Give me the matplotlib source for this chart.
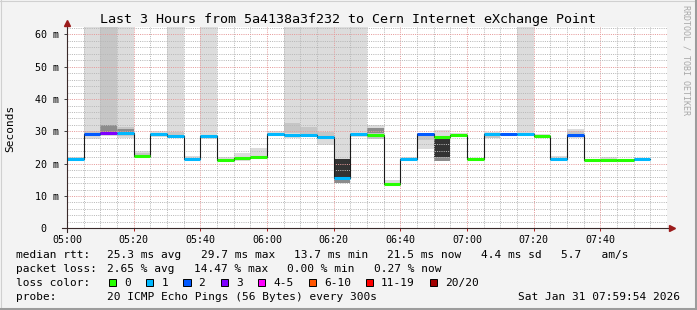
import numpy as np
import matplotlib.pyplot as plt
from matplotlib.patches import Rectangle
from matplotlib.lines import Line2D
from matplotlib.ticker import MultipleLocator, FixedLocator

# ================= DATA =================
step_min = 5                       # one probe every 300 s
time_labels = ["05:00", "05:20", "05:40", "06:00", "06:20", "06:40", "07:00", "07:20", "07:40"]
y_labels = ["0  ", "10 m", "20 m", "30 m", "40 m", "50 m", "60 m"]

# median rtt per 5 min step (ms)
median_ms = [21.3, 29.3, 29.4, 29.6, 22.4, 29.1, 28.7, 21.5, 28.5, 21.1, 21.7, 22.0,
             29.1, 29.0, 29.0, 28.2, 15.6, 29.1, 28.9, 13.8, 21.5, 29.1, 28.2, 28.9,
             21.5, 29.2, 29.3, 29.1, 28.6, 21.5, 28.8, 21.0, 21.0, 21.0, 21.5]
# lost pings out of 20 per step
lost_pings = [1, 2, 3, 1, 0, 1, 1, 1, 1, 0, 0, 0, 1, 1, 1, 1, 1, 1, 0, 0, 1, 2, 0, 0,
              0, 1, 2, 1, 0, 1, 2, 0, 0, 0, 1]

# smoke: full ping range (95 = ping far beyond the scale)
smoke_lo = [21.0, 27.6, 28.7, 28.0, 22.0, 28.4, 28.0, 21.3, 27.5, 20.9, 20.8, 21.4,
            28.7, 27.8, 28.4, 25.8, 13.9, 28.4, 27.5, 13.5, 21.0, 24.5, 20.8, 28.6,
            21.2, 27.8, 28.9, 28.9, 28.3, 20.9, 28.0, 20.8, 21.0, 20.8, 21.2]
smoke_hi = [22.0, 95, 95, 95, 23.9, 30.0, 95, 22.4, 95, 22.2, 23.4, 24.9,
            30.2, 95, 95, 95, 95, 95, 32.0, 14.8, 22.2, 29.5, 30.4, 29.4,
            21.9, 29.8, 29.6, 95, 29.1, 22.4, 30.7, 21.4, 22.1, 21.3, 21.8]

# denser smoke bands (step index, low, high)
mid_step = [1, 2, 3, 4, 6, 10, 13, 14, 15, 18, 21, 25, 30]
mid_lo = [29.3, 28.9, 28.5, 22.4, 28.7, 21.2, 29.6, 29.3, 27.6, 27.5, 27.3, 28.0, 28.5]
mid_hi = [30.2, 95, 31.2, 23.4, 29.9, 22.2, 32.5, 31.4, 29.9, 31.0, 28.6, 29.2, 30.2]

deep_step = [2, 3, 16, 18, 22]
deep_lo = [29.6, 29.8, 13.9, 29.4, 20.8]
deep_hi = [32.0, 30.6, 21.6, 30.9, 22.5]

core_step = [16, 22]
core_lo = [16.0, 22.2]
core_hi = [21.4, 27.6]

loss_names = ["0", "1", "2", "3", "4-5", "6-10", "11-19", "20/20"]
loss_colors = ["#26ff00", "#00b8ff", "#0059ff", "#7e00ff", "#ff00ff", "#ff5500", "#ff0000", "#a10000"]
loss_limits = [0, 1, 2, 3, 5, 10, 19, 20]

title = "Last 3 Hours from 5a4138a3f232 to Cern Internet eXchange Point"
rtt_stats = ["25.3 ms avg", "29.7 ms max", "13.7 ms min", "21.5 ms now", "4.4 ms sd", "5.7   am/s"]
loss_stats = ["2.65 % avg", "14.47 % max", "0.00 % min", "0.27 % now"]
probe_text = "20 ICMP Echo Pings (56 Bytes) every 300s"
stamp = "Sat Jan 31 07:59:54 2026"

# ================= SETTINGS =================
W, H = 697, 310
mono = "DejaVu Sans Mono"
plt.rcParams.update({"font.family": mono})


def fx(x):
    return x / W


def fy(y):
    return 1 - y / H


def loss_color(n):
    for lim, col in zip(loss_limits, loss_colors):
        if n <= lim:
            return col
    return loss_colors[-1]


# ================= PLOT =================
fig = plt.figure(figsize=(W / 100, H / 100), dpi=100, facecolor="#f3f3f3")
ax = fig.add_axes([fx(67), fy(228.3), fx(600), (228.3 - 27) / H])
ax.set_facecolor("white")

starts = np.arange(len(median_ms)) * step_min
ax.bar(starts, np.array(smoke_hi) - np.array(smoke_lo), bottom=smoke_lo, width=step_min,
       align="edge", color="#dcdcdc", linewidth=0, zorder=1)
for steps, lo, hi, col in [(mid_step, mid_lo, mid_hi, "#c6c6c6"),
                           (deep_step, deep_lo, deep_hi, "#8c8c8c"),
                           (core_step, core_lo, core_hi, "#333333")]:
    ax.bar(np.array(steps) * step_min, np.array(hi) - np.array(lo), bottom=lo,
           width=step_min, align="edge", color=col, linewidth=0, zorder=1.2)

# median: black step line plus loss-coloured bars
ax.step(np.append(starts, starts[-1] + step_min), np.append(median_ms, median_ms[-1]),
        where="post", color="#1a1a1a", lw=0.8, zorder=3)
ax.hlines(median_ms, starts, starts + step_min, colors=[loss_color(n) for n in lost_pings],
          lw=2.2, zorder=4)

ax.set_xlim(0, 180)
ax.set_ylim(0, 62.3)
ax.xaxis.set_major_locator(FixedLocator(np.arange(len(time_labels)) * 20))
ax.xaxis.set_minor_locator(MultipleLocator(5))
ax.yaxis.set_major_locator(FixedLocator(np.arange(len(y_labels)) * 10))
ax.yaxis.set_minor_locator(MultipleLocator(2))
ax.set_xticklabels(time_labels)
ax.set_yticklabels(y_labels)
ax.set_axisbelow(False)
ax.grid(which="minor", color="#b8b8b8", ls=(0, (1, 1.2)), lw=0.72)
ax.grid(which="major", color="#e69a9a", ls=(0, (1, 1.2)), lw=0.72)
ax.tick_params(which="major", labelsize=7.2, length=2, width=0.7, color="#b02020", pad=2.5)
ax.tick_params(axis="y", which="major", color="#404040", pad=3.5)
ax.tick_params(which="minor", length=0)
for s in ax.spines.values():
    s.set_visible(False)

# axes with arrows
axis_col = "#3a2a2a"
arrow_col = "#9b1b1b"
ax.add_line(Line2D([-0.008, 1.008], [0, 0], transform=ax.transAxes, color=axis_col,
                   lw=0.8, clip_on=False, zorder=6))
ax.add_line(Line2D([0, 0], [-0.02, 1.02], transform=ax.transAxes, color=axis_col,
                   lw=0.8, clip_on=False, zorder=6))
ax.plot(1.008, 0, marker=">", ms=4, color=arrow_col, transform=ax.transAxes, clip_on=False, zorder=7)
ax.plot(0, 1.02, marker="^", ms=4, color=arrow_col, transform=ax.transAxes, clip_on=False, zorder=7)

# titles
fig.text(0.5, fy(19), title, ha="center", va="center", fontsize=9.6)
fig.text(fx(10), fy(128), "Seconds", rotation=90, ha="center", va="center", fontsize=8)
fig.text(fx(686), fy(60), "RRDTOOL / TOBI OETIKER", rotation=270, ha="center", va="center",
         fontsize=6, color="#a8a8a8")

# ================= LEGEND =================
pitch = 0.602 * 8 * 100 / 72     # width of one monospace char at 8 pt
gap = 19.8
col0, col1 = 16, 107.3
rows = [258, 272, 286, 300]


def put_items(items, y):
    x = col1
    for it in items:
        fig.text(fx(x), fy(y), it, ha="left", va="baseline", fontsize=8)
        x += len(it) * pitch + gap


fig.text(fx(col0), fy(rows[0]), "median rtt:", va="baseline", fontsize=8)
put_items(rtt_stats, rows[0])
fig.text(fx(col0), fy(rows[1]), "packet loss:", va="baseline", fontsize=8)
put_items(loss_stats, rows[1])
fig.text(fx(col0), fy(rows[2]), "loss color:", va="baseline", fontsize=8)
x = col1 + 1.4
for name, col in zip(loss_names, loss_colors):
    fig.add_artist(Rectangle((fx(x), fy(rows[2] + 0.3)), fx(7.3), 7.6 / H, facecolor=col,
                             edgecolor="black", lw=0.7, transform=fig.transFigure))
    fig.text(fx(x + 15.3), fy(rows[2]), name, va="baseline", fontsize=8)
    x += 30.6 + len(name) * pitch
fig.text(fx(col0), fy(rows[3]), "probe:", va="baseline", fontsize=8)
fig.text(fx(col1), fy(rows[3]), probe_text, va="baseline", fontsize=8)
fig.text(fx(680), fy(rows[3]), stamp, ha="right", va="baseline", fontsize=8)

# frame
fig.add_artist(Line2D([0, 1], [fy(0.5), fy(0.5)], color="#d0d0d0", lw=0.8))
fig.add_artist(Line2D([fx(0.5), fx(0.5)], [0, 1], color="#d0d0d0", lw=0.8))
fig.add_artist(Line2D([fx(W - 1.5), fx(W - 1.5)], [0, 1], color="#9c9c9c", lw=2.2))
fig.add_artist(Line2D([0, 1], [fy(H - 1.5), fy(H - 1.5)], color="#9c9c9c", lw=2.2))

fig.savefig("out.png", dpi=100, facecolor=fig.get_facecolor())
